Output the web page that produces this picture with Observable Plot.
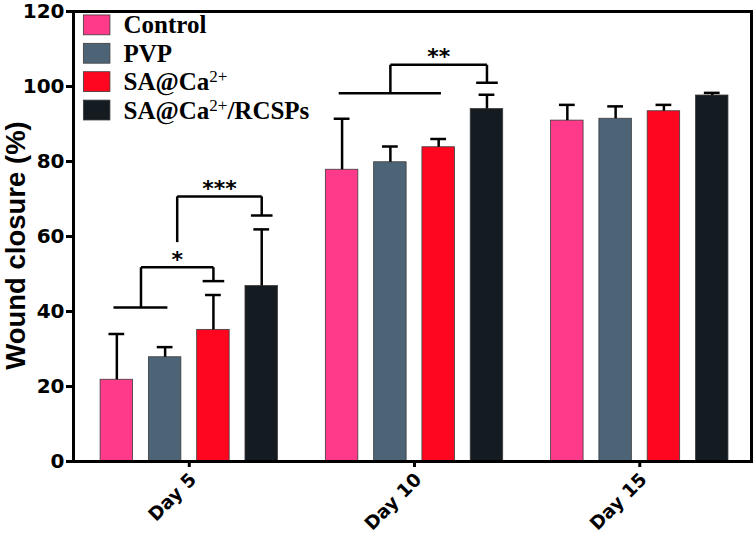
<!DOCTYPE html>
<html>
<head>
<meta charset="utf-8">
<script src="https://cdn.jsdelivr.net/npm/d3@7"></script>
<script src="https://cdn.jsdelivr.net/npm/@observablehq/plot@0.6"></script>
<style>
  html, body { margin: 0; padding: 0; background: #fff; }
</style>
</head>
<body>
<div id="chart"></div>
<script>
// ---- data ----
const days = ["Day 5", "Day 10", "Day 15"];
const groups = ["Control", "PVP", "SA@Ca2+", "SA@Ca2+/RCSPs"];
const colors = ["#ff3a8a", "#4d6477", "#ff0620", "#141b21"];
const controlMean = [21.8, 77.8, 90.9];
const pvpMean = [27.8, 79.8, 91.4];
const saCaMean = [35.1, 83.8, 93.4];
const saCaRcspsMean = [46.8, 94.0, 97.6];
const controlSD = [12.2, 13.6, 4.2];
const pvpSD = [2.7, 4.2, 3.3];
const saCaSD = [9.3, 2.2, 1.7];
const saCaRcspsSD = [15.1, 3.8, 0.7];
const yTicks = [0, 20, 40, 60, 80, 100, 120];
// significance annotations: label, day, left anchor (series position), right series, levels
const sigLabels = ["*", "***", "**"];
const sigDay = [0, 0, 1];
const sigFrom = [0.5, 1.25, 1];
const sigTo = [2, 3, 3];
const sigLeftEnd = [41.1, 58.5, 98.2];
const sigTop = [51.8, 70.7, 105.8];
const sigRightEnd = [48.1, 65.6, 101.0];
const sigBaseFrom = [0, null, 0];
const sigBaseTo = [1, null, 2];

// ---- layout helpers ----
const means = [controlMean, pvpMean, saCaMean, saCaRcspsMean];
const sds = [controlSD, pvpSD, saCaSD, saCaRcspsSD];
const step = 0.2144, hw = 0.0721, capHw = 0.035, bCapHw = 0.048;
const pos = (di, s) => di + 1 + (s - 1.5) * step;

const table = days.flatMap((day, di) => groups.map((g, si) => ({
  day, group: g, cx: pos(di, si), value: means[si][di], sd: sds[si][di]
})));

const segs = [];
const sigText = [];
sigLabels.forEach((lab, i) => {
  const d = sigDay[i];
  const xl = pos(d, sigFrom[i]), xr = pos(d, sigTo[i]);
  segs.push({x1: xl, y1: sigLeftEnd[i], x2: xl, y2: sigTop[i]});
  segs.push({x1: xl, y1: sigTop[i], x2: xr, y2: sigTop[i]});
  segs.push({x1: xr, y1: sigTop[i], x2: xr, y2: sigRightEnd[i]});
  segs.push({x1: xr - bCapHw, y1: sigRightEnd[i], x2: xr + bCapHw, y2: sigRightEnd[i]});
  if (sigBaseFrom[i] !== null) {
    segs.push({x1: pos(d, sigBaseFrom[i]) - 0.015, y1: sigLeftEnd[i], x2: pos(d, sigBaseTo[i]) + 0.01, y2: sigLeftEnd[i]});
  }
  sigText.push({label: lab, x: (xl + xr) / 2, y: sigTop[i] + 2.0});
});

const legendRows = groups.map((g, i) => ({group: g, y: 116.3 - i * 7.57}));

const sans = "'Liberation Sans', Arial, Helvetica, sans-serif";
const wide = "'DejaVu Sans', Verdana, sans-serif";
const serif = "'Liberation Serif', 'Times New Roman', serif";

const svg = Plot.plot({
  width: 756,
  height: 536,
  marginTop: 11,
  marginRight: 5,
  marginBottom: 75,
  marginLeft: 73,
  style: {fontFamily: sans, background: "white", color: "black"},
  x: {domain: [0.486, 3.496]},
  y: {domain: [0, 120]},
  color: {domain: groups, range: colors},
  marks: [
    Plot.rect(table, {x1: d => d.cx - hw, x2: d => d.cx + hw, y1: 0, y2: "value", fill: "group", stroke: "#3c3c3c", strokeWidth: 0.8}),
    Plot.ruleX(table, {x: "cx", y1: "value", y2: d => d.value + d.sd, stroke: "black", strokeWidth: 2.5}),
    Plot.ruleY(table, {y: d => d.value + d.sd, x1: d => d.cx - capHw, x2: d => d.cx + capHw, stroke: "black", strokeWidth: 2.5}),
    Plot.link(segs, {x1: "x1", y1: "y1", x2: "x2", y2: "y2", stroke: "black", strokeWidth: 2.5}),
    Plot.text(sigText, {x: "x", y: "y", text: "label", fontSize: 22, fontWeight: "bold", fontFamily: wide, lineAnchor: "middle"}),
    Plot.rect(legendRows, {x1: 0.532, x2: 0.650, y1: d => d.y - 2.65, y2: d => d.y + 2.65, fill: "group", stroke: "#3c3c3c", strokeWidth: 0.8}),
    Plot.text(legendRows, {x: 0.708, y: "y", text: "group", textAnchor: "start", lineAnchor: "middle", fontSize: 25, fontWeight: "bold", fontFamily: serif}),
    Plot.frame({stroke: "black", strokeWidth: 3}),
    // axis ticks (labels drawn below as text marks)
    Plot.axisY({ticks: yTicks, tickSize: 7, strokeWidth: 3, tickFormat: () => "", label: null}),
    Plot.axisX({ticks: [1, 2, 3], tickSize: 6, strokeWidth: 3, tickFormat: () => "", label: null}),
    Plot.text(yTicks, {frameAnchor: "left", y: d => d, text: d => String(d), textAnchor: "end", lineAnchor: "middle", dx: -9, fontSize: 20, fontWeight: "bold", fontFamily: wide}),
    Plot.text(days, {x: (d, i) => i + 1, frameAnchor: "bottom", text: d => d, rotate: -45, textAnchor: "end", lineAnchor: "middle", dx: 4, dy: 15, fontSize: 18.5, fontWeight: "bold", fontFamily: wide}),
    Plot.text(["Wound closure (%)"], {text: d => d, frameAnchor: "left", rotate: -90, dx: -57, dy: 9, fontSize: 27.5, fontWeight: "bold", fontFamily: sans, lineAnchor: "middle", textAnchor: "middle"})
  ]
});

// superscript "2+" in legend labels
d3.select(svg).selectAll("text").each(function () {
  const t = this.textContent;
  if (this.childElementCount === 0 && t.includes("Ca2+")) {
    const idx = t.indexOf("2+");
    const before = t.slice(0, idx), after = t.slice(idx + 2);
    const el = d3.select(this);
    el.text(null);
    el.append("tspan").text(before);
    el.append("tspan").attr("dy", -8).attr("font-size", 17).attr("font-weight", "normal").text("2+");
    if (after) el.append("tspan").attr("dy", 8).text(after);
  }
});

document.getElementById("chart").appendChild(svg);
</script>
</body>
</html>
